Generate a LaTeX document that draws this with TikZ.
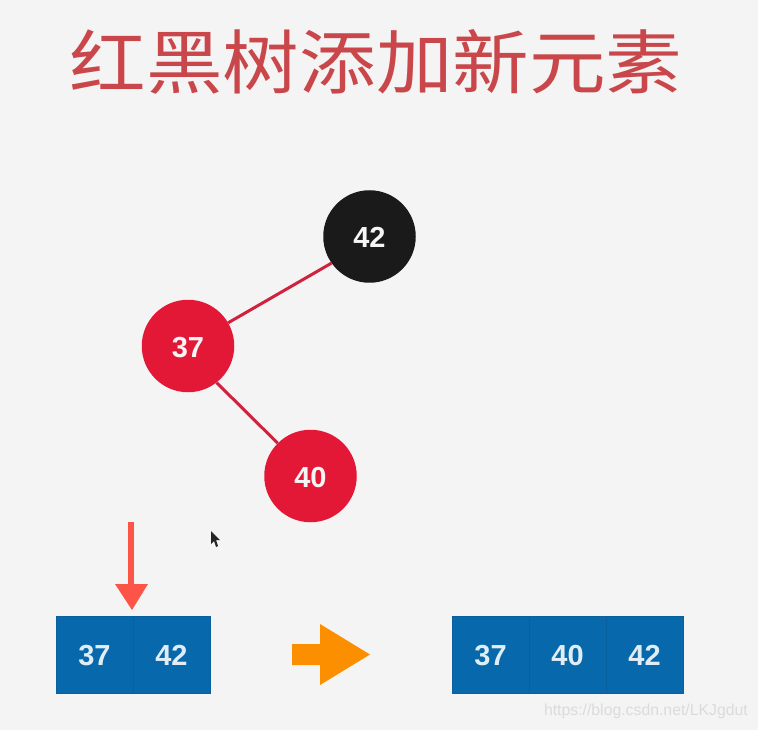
\documentclass[tikz,border=0pt]{standalone}
\usepackage{fontspec}
\setmainfont{Liberation Sans}
\newfontfamily\cjk{Noto Sans CJK SC}
\usetikzlibrary{arrows.meta}
\definecolor{bgc}{HTML}{F4F4F4}
\definecolor{redn}{HTML}{E31837}
\definecolor{blackn}{HTML}{1A1A1A}
\definecolor{edgec}{HTML}{D0213F}
\definecolor{cellc}{HTML}{0768AC}
\definecolor{celll}{HTML}{0A5F9C}
\definecolor{titlec}{HTML}{C9474A}
\definecolor{ptr}{HTML}{FC5446}
\definecolor{orangec}{HTML}{FC8F00}
\newcommand{\lowtext}[1]{\raisebox{-1pt}[\height][0pt]{#1}}
\tikzset{
 x=1pt,y=-1pt,
 treenode/.style={circle,minimum size=92.5pt,inner sep=0pt,text=white!92!gray,font=\fontsize{29}{29}\selectfont\bfseries},
 rednode/.style={treenode,fill=redn},
 blacknode/.style={treenode,fill=blackn},
 treeedge/.style={edgec,line width=3pt},
 cell/.style={rectangle,fill=cellc,draw=celll,line width=.6pt,minimum width=77pt,minimum height=77pt,inner sep=0pt,text=white!88!cellc,font=\fontsize{29}{29}\selectfont\bfseries},
}
\begin{document}
\begin{tikzpicture}
\useasboundingbox (0,0) rectangle (758,730);
\fill[bgc] (0,0) rectangle (758,730);
\node[text=titlec,inner sep=0pt,font=\fontsize{76}{76}\cjk] (title) at (376,62) {\scalebox{1.008}[.92]{红黑树添加新元素}};
\node[blacknode] (n42) at (369.5,236.5) {\lowtext{42}};
\node[rednode] (n37) at (188,346) {\lowtext{37}};
\node[rednode] (n40) at (310.5,476) {\lowtext{40}};
\draw[treeedge] (n42.215) -- (n37.30);
\draw[treeedge] (n37.-52) -- (n40.135);
\node[cell] (a37) at (94.5,654.5) {\lowtext{37}};
\node[cell] (a42) at (171.5,654.5) {\lowtext{42}};
\node[cell] (b37) at (490.5,654.5) {\lowtext{37}};
\node[cell] (b40) at (567.5,654.5) {\lowtext{40}};
\node[cell] (b42) at (644.5,654.5) {\lowtext{42}};
\coordinate (ptrtop) at (131,522);
\coordinate (ptrbase) at (131,585);
\coordinate (ptrtip) at (132,610);
\draw[ptr,line width=5.5pt] (ptrtop) -- (ptrbase);
\fill[ptr] (115,584) -- (148,584) -- (ptrtip) -- cycle;
\fill[orangec] (292,644) -- (320,644) -- (320,624) -- (370,654.5) -- (320,685) -- (320,665) -- (292,665) -- cycle;
\fill[black!85] (211,531) -- (211,544) -- (214,541) -- (216,547) -- (218,546) -- (216,540) -- (220,540) -- cycle;
\node[text=white!86!black,inner sep=0pt,anchor=east,font=\fontsize{15.8}{16}\selectfont] (wm) at (748,711) {https://blog.csdn.net/LKJgdut};
\end{tikzpicture}
\end{document}
